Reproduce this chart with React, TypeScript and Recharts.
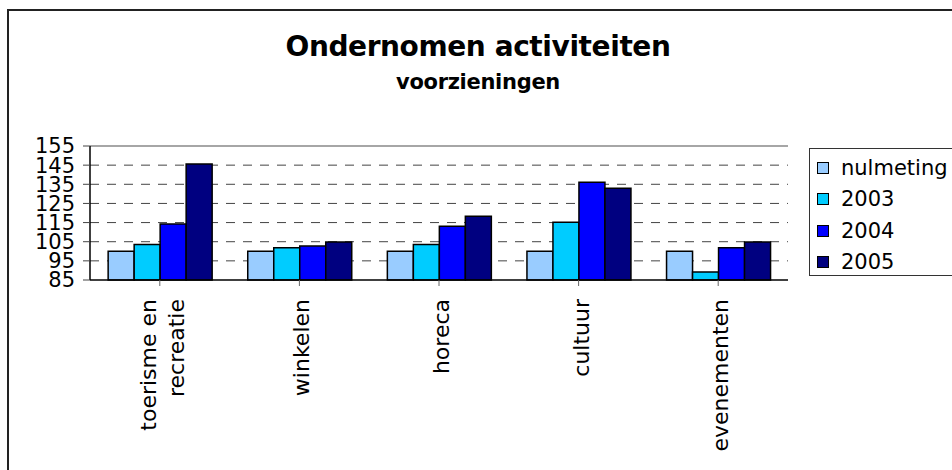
import { Bar, BarChart, CartesianGrid, ReferenceLine, XAxis, YAxis } from "recharts";

const categories = ["toerisme en\nrecreatie", "winkelen", "horeca", "cultuur", "evenementen"];
const nulmeting = [100, 100, 100, 100, 100];
const jaar2003 = [103.6, 101.8, 103.6, 115.2, 89.2];
const jaar2004 = [114.2, 102.7, 113.1, 136.1, 101.8];
const jaar2005 = [145.6, 104.8, 118.3, 132.9, 104.8];
const yTicks = [85, 95, 105, 115, 125, 135, 145, 155];

const series = [
  { key: "nulmeting", name: "nulmeting", color: "#99ccff" },
  { key: "y2003", name: "2003", color: "#00ccff" },
  { key: "y2004", name: "2004", color: "#0000ff" },
  { key: "y2005", name: "2005", color: "#000080" },
];

const data = categories.map((label, i) => ({
  label,
  nulmeting: nulmeting[i],
  y2003: jaar2003[i],
  y2004: jaar2004[i],
  y2005: jaar2005[i],
}));

const FONT = "'DejaVu Sans', Verdana, sans-serif";

function CategoryTick({ x, y, payload }: any) {
  const lines: string[] = String(payload.value).split("\n");
  const step = 28;
  const start = -((lines.length - 1) * step) / 2 + 2;
  return (
    <g>
      {lines.map((line, i) => (
        <text
          key={i}
          transform={`translate(${x + start + i * step},${y + 11}) rotate(-90)`}
          textAnchor="end"
          dy="0.36em"
          fontSize={22}
          fontFamily={FONT}
          fill="#000"
        >
          {line}
        </text>
      ))}
    </g>
  );
}

function LegendBox() {
  return (
    <div
      style={{
        position: "absolute",
        left: 809,
        top: 148,
        width: 150,
        height: 128,
        border: "1.5px solid #333",
        background: "#fff",
        boxSizing: "border-box",
        paddingTop: 3,
      }}
    >
      {series.map((s) => (
        <div
          key={s.key}
          style={{ display: "flex", alignItems: "center", height: 31.5, fontFamily: FONT, fontSize: 21 }}
        >
          <span
            style={{
              display: "inline-block",
              width: 10,
              height: 10,
              marginLeft: 7,
              marginRight: 12,
              background: s.color,
              border: "1.5px solid #000",
            }}
          />
          <span>{s.name}</span>
        </div>
      ))}
    </div>
  );
}

export default function App() {
  return (
    <div style={{ position: "absolute", left: 0, top: 0, width: 952, height: 470, overflow: "hidden", background: "#fff" }}>
      <div
        style={{
          position: "absolute",
          left: 7,
          top: 9,
          width: 980,
          height: 500,
          borderLeft: "2px solid #222",
          borderTop: "2px solid #222",
        }}
      />
      <BarChart
        width={952}
        height={470}
        data={data}
        margin={{ top: 146, right: 164, bottom: 0, left: 0 }}
        barCategoryGap="13%"
        barGap={0}
      >
        <CartesianGrid vertical={false} stroke="#444" strokeDasharray="9 8" horizontalValues={[95, 105, 115, 125, 135, 145]} />
        <ReferenceLine y={155} stroke="#888" strokeWidth={1.5} />
        <XAxis
          dataKey="label"
          height={190}
          interval={0}
          tick={<CategoryTick />}
          tickSize={6}
          axisLine={{ stroke: "#000", strokeWidth: 1.5 }}
          tickLine={{ stroke: "#666" }}
        />
        <YAxis
          width={90}
          domain={[85, 155]}
          ticks={yTicks}
          interval={0}
          tickSize={7}
          tickMargin={8}
          axisLine={{ stroke: "#000", strokeWidth: 1.5 }}
          tickLine={{ stroke: "#444" }}
          tick={{ fontSize: 21, fontFamily: FONT, fill: "#000" }}
        />
        <YAxis
          yAxisId="border"
          orientation="right"
          width={0}
          domain={[85, 155]}
          tick={false}
          tickLine={false}
          axisLine={{ stroke: "#888", strokeWidth: 1.5 }}
        />
        {series.map((s) => (
          <Bar
            key={s.key}
            dataKey={s.key}
            name={s.name}
            fill={s.color}
            stroke="#000"
            strokeWidth={1.5}
            isAnimationActive={false}
          />
        ))}
      </BarChart>
      <LegendBox />
      <svg width={952} height={110} style={{ position: "absolute", left: 0, top: 0, pointerEvents: "none" }}>
        <text x={478} y={56} textAnchor="middle" fontFamily={FONT} fontWeight="bold" fontSize={28} letterSpacing={-0.4} fill="#000">
          Ondernomen activiteiten
        </text>
        <text x={478} y={89} textAnchor="middle" fontFamily={FONT} fontWeight="bold" fontSize={21} letterSpacing={-0.3} fill="#000">
          voorzieningen
        </text>
      </svg>
    </div>
  );
}
